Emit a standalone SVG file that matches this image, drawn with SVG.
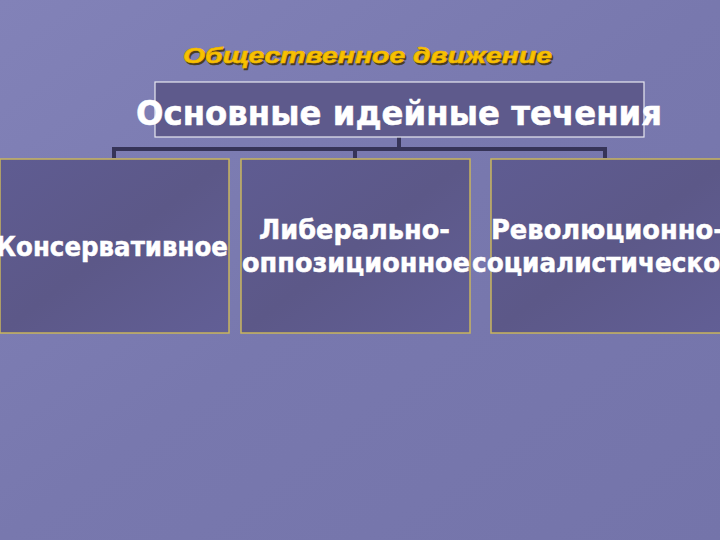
<svg xmlns="http://www.w3.org/2000/svg" width="720" height="540" viewBox="0 0 720 540">
<defs>
<linearGradient id="bg" x1="0" y1="0" x2="1" y2="1">
<stop offset="0" stop-color="#8282B8"/>
<stop offset="0.5" stop-color="#7878AE"/>
<stop offset="1" stop-color="#7474AA"/>
</linearGradient>
<linearGradient id="boxfill" x1="0" y1="0" x2="1" y2="1">
<stop offset="0" stop-color="#5F5C92"/>
<stop offset="0.5" stop-color="#5C5888"/>
<stop offset="1" stop-color="#625F96"/>
</linearGradient>
<style>
.box{fill:url(#boxfill);stroke:#C9B55C;stroke-width:1.5}
.head{fill:#5E5A8C;stroke:#E8E8F0;stroke-width:1.2}
.lbl{font-family:"DejaVu Sans","Liberation Sans",sans-serif;font-weight:bold;fill:#FFFFFF;stroke:#FFFFFF;stroke-width:0.5}
.conn{stroke:#363458;stroke-width:4;fill:none}
.title{font-family:"Liberation Sans",Arial,sans-serif;font-weight:bold;font-style:italic;font-size:22px}
</style>
</defs>
<rect x="0" y="0" width="720" height="540" fill="url(#bg)"/>
<g id="title">
<text class="title" x="184.5" y="64.5" textLength="369" lengthAdjust="spacingAndGlyphs" fill="#4A3E1E" stroke="#4A3E1E" stroke-width="0.6">Общественное движение</text>
<text class="title" x="183" y="63" textLength="369" lengthAdjust="spacingAndGlyphs" fill="#F7C200" stroke="#F2B400" stroke-width="0.6">Общественное движение</text>
</g>
<g id="connectors">
<path class="conn" d="M399 137 V149 M112 149 H607 M114 149 V158 M355 149 V158 M605 149 V158"/>
</g>
<g id="root">
<rect class="head" x="155" y="82" width="489" height="55"/>
<text class="lbl" x="136" y="125" font-size="34" textLength="526" lengthAdjust="spacingAndGlyphs">Основные идейные течения</text>
</g>
<g id="conservative">
<rect class="box" x="0" y="159" width="229" height="174"/>
<text class="lbl" x="-4" y="256" font-size="27" textLength="232" lengthAdjust="spacingAndGlyphs">Консервативное</text>
</g>
<g id="liberal">
<rect class="box" x="241" y="159" width="229" height="174"/>
<text class="lbl" x="259" y="239" font-size="27" textLength="191" lengthAdjust="spacingAndGlyphs">Либерально-</text>
<text class="lbl" x="242" y="272" font-size="27" textLength="228" lengthAdjust="spacingAndGlyphs">оппозиционное</text>
</g>
<g id="revolutionary">
<rect class="box" x="491" y="159" width="240" height="174"/>
<text class="lbl" x="491" y="239" font-size="27" textLength="233" lengthAdjust="spacingAndGlyphs">Революционно-</text>
<text class="lbl" x="472" y="272" font-size="27" textLength="265" lengthAdjust="spacingAndGlyphs">социалистическое</text>
</g>
</svg>
